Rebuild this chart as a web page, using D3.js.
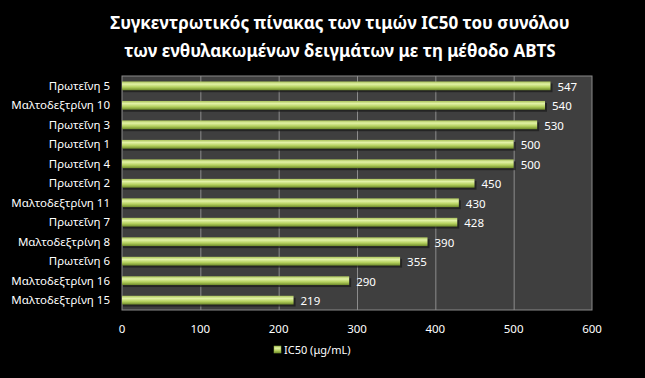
<!DOCTYPE html>
<html><head><meta charset="utf-8">
<script src="https://cdn.jsdelivr.net/npm/d3@7"></script>
<style>body{margin:0;background:#000;}svg{display:block;}</style>
</head><body>
<svg id="c" width="645" height="378"></svg>
<script>
const categories = ["Πρωτεΐνη 5","Μαλτοδεξτρίνη 10","Πρωτεΐνη 3","Πρωτεΐνη 1","Πρωτεΐνη 4","Πρωτεΐνη 2","Μαλτοδεξτρίνη 11","Πρωτεΐνη 7","Μαλτοδεξτρίνη 8","Πρωτεΐνη 6","Μαλτοδεξτρίνη 16","Μαλτοδεξτρίνη 15"];
const values = [547,540,530,500,500,450,430,428,390,355,290,219];
const xTicks = [0,100,200,300,400,500,600];
const titleLines = ["Συγκεντρωτικός πίνακας των τιμών IC50 του συνόλου","των ενθυλακωμένων δειγμάτων με τη μέθοδο ABTS"];
const seriesName = "IC50 (μg/mL)";

const svg = d3.select("#c");
const font = "'Noto Sans', 'Open Sans', sans-serif";
const m = {l:122, r:592, t:76, b:310};
const x = d3.scaleLinear().domain([0,600]).range([m.l, m.r]);
const y = d3.scaleBand().domain(categories).range([m.t, m.b]).paddingInner(0.55).paddingOuter(0.28);

const defs = svg.append("defs");
const g = defs.append("linearGradient").attr("id","bar").attr("x1",0).attr("y1",0).attr("x2",0).attr("y2",1);
g.append("stop").attr("offset","0%").attr("stop-color","#a9c25a");
g.append("stop").attr("offset","30%").attr("stop-color","#e2f2a6");
g.append("stop").attr("offset","65%").attr("stop-color","#b4d05e");
g.append("stop").attr("offset","100%").attr("stop-color","#6e8a2a");

svg.append("rect").attr("width",645).attr("height",378).attr("fill","#000");
svg.append("rect").attr("x",m.l).attr("y",m.t).attr("width",m.r-m.l).attr("height",m.b-m.t).attr("fill","#3f3f3f").attr("stroke","#8a8a8a").attr("stroke-width",1);

svg.append("g").selectAll("line").data(xTicks.slice(1,-1)).join("line")
  .attr("x1",d=>x(d)+0.5).attr("x2",d=>x(d)+0.5).attr("y1",m.t).attr("y2",m.b)
  .attr("stroke","#8c8c8c").attr("stroke-width",1);

// shadows
svg.append("g").selectAll("rect").data(values).join("rect")
  .attr("x",m.l+1).attr("y",(d,i)=>y(categories[i])+2)
  .attr("width",d=>x(d)-m.l+1).attr("height",y.bandwidth())
  .attr("fill","#1a1a1a").attr("opacity",0.7);
svg.append("g").selectAll("rect").data(values).join("rect")
  .attr("x",m.l).attr("y",(d,i)=>y(categories[i]))
  .attr("width",d=>x(d)-m.l).attr("height",y.bandwidth())
  .attr("fill","url(#bar)");

svg.append("g").selectAll("text").data(values).join("text")
  .attr("x",d=>x(d)+7).attr("y",(d,i)=>y(categories[i])+y.bandwidth()/2+5)
  .attr("fill","#fff").attr("font-family",font).attr("font-size",11.5).text(d=>d);

svg.append("g").selectAll("text").data(categories).join("text")
  .attr("x",m.l-12).attr("y",d=>y(d)+y.bandwidth()/2+4)
  .attr("text-anchor","end").attr("fill","#fff").attr("font-family",font).attr("font-size",11.5).text(d=>d);

svg.append("g").selectAll("text").data(xTicks).join("text")
  .attr("x",d=>x(d)).attr("y",333).attr("text-anchor","middle")
  .attr("fill","#fff").attr("font-family",font).attr("font-size",11.5).text(d=>d);

svg.append("g").selectAll("text").data(titleLines).join("text")
  .attr("x",340).attr("y",(d,i)=>29+i*28).attr("text-anchor","middle")
  .attr("fill","#fff").attr("font-family",font).attr("font-weight","bold").attr("font-size",17).text(d=>d);

svg.append("rect").attr("x",274).attr("y",346).attr("width",7).attr("height",7).attr("fill","url(#bar)").attr("stroke","#8fae3e").attr("stroke-width",0.5);
svg.append("text").attr("x",284).attr("y",354).attr("fill","#fff").attr("font-family",font).attr("font-size",11).text(seriesName);
</script>
</body></html>
